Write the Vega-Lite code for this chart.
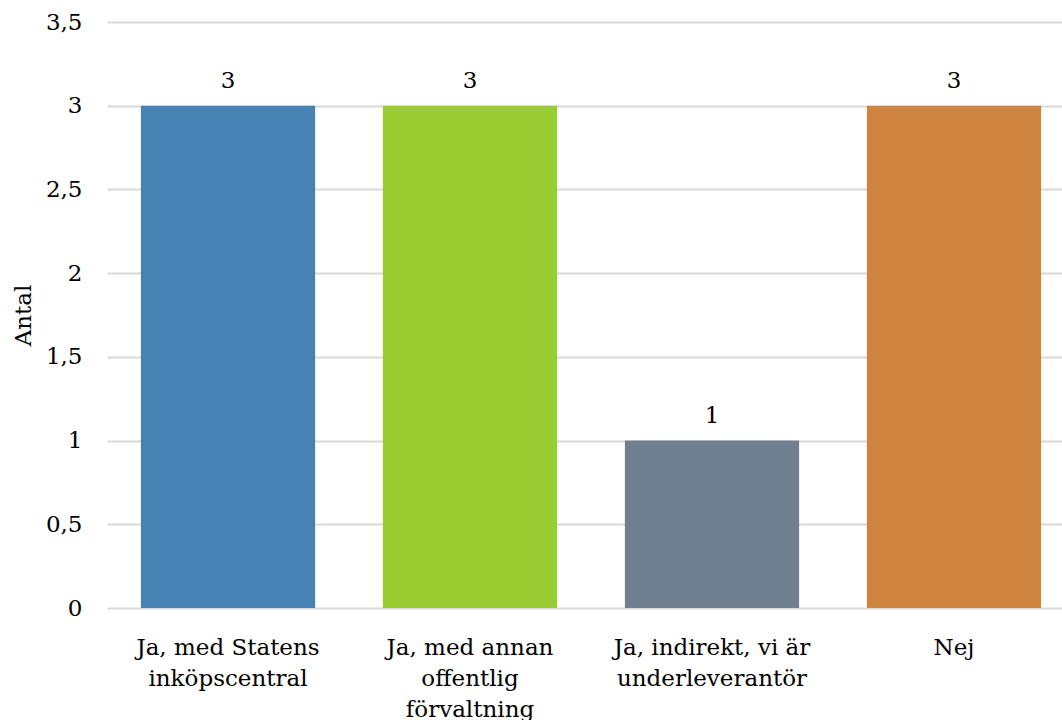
{
  "$schema": "https://vega.github.io/schema/vega-lite/v6.json",
  "autosize": "none",
  "padding": {"left": 107, "top": 22, "right": 0, "bottom": 112},
  "width": 968,
  "height": 586,
  "background": "white",
  "config": {
    "view": {"stroke": null},
    "font": "DejaVu Serif"
  },
  "data": {
    "values": [
      {"kategori": "Ja, med Statens\ninköpscentral", "antal": 3, "farg": "#4682B4"},
      {"kategori": "Ja, med annan\noffentlig\nförvaltning", "antal": 3, "farg": "#9ACD32"},
      {"kategori": "Ja, indirekt, vi är\nunderleverantör", "antal": 1, "farg": "#708090"},
      {"kategori": "Nej", "antal": 3, "farg": "#CD853F"}
    ]
  },
  "encoding": {
    "x": {
      "field": "kategori",
      "type": "nominal",
      "sort": null,
      "scale": {"paddingInner": 0.28, "paddingOuter": 0.14},
      "axis": {
        "title": null,
        "labelAngle": 0,
        "labelExpr": "split(datum.label, '\\n')",
        "labelFont": "DejaVu Serif",
        "labelFontSize": 23,
        "labelColor": "#000000",
        "labelLineHeight": 31,
        "labelPadding": 28,
        "labelBaseline": "top",
        "labelLimit": 0,
        "domain": false,
        "ticks": false,
        "grid": false
      }
    },
    "y": {
      "field": "antal",
      "type": "quantitative",
      "scale": {"domain": [0, 3.5]},
      "axis": {
        "title": "Antal",
        "titleFont": "DejaVu Serif",
        "titleFontSize": 23,
        "titleFontWeight": "normal",
        "titleColor": "#000000",
        "titlePadding": 10,
        "values": [0, 0.5, 1, 1.5, 2, 2.5, 3, 3.5],
        "labelExpr": "replace(format(datum.value, '~g'), '.', ',')",
        "labelFont": "DejaVu Serif",
        "labelFontSize": 23,
        "labelColor": "#000000",
        "labelPadding": 25,
        "domain": false,
        "ticks": false,
        "grid": true,
        "gridColor": "#d9d9d9",
        "gridWidth": 2
      }
    }
  },
  "layer": [
    {
      "mark": {"type": "bar"},
      "encoding": {
        "color": {"field": "farg", "type": "nominal", "scale": null, "legend": null}
      }
    },
    {
      "mark": {"type": "text", "baseline": "bottom", "dy": -13, "fontSize": 23, "font": "DejaVu Serif", "color": "#000000"},
      "encoding": {"text": {"field": "antal", "type": "quantitative"}}
    }
  ]
}
